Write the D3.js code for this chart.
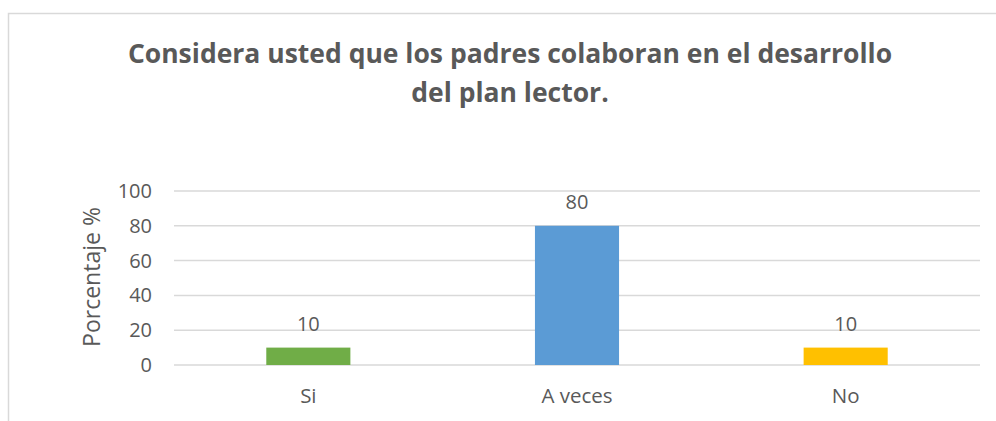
<!DOCTYPE html>
<html>
<head>
<meta charset="utf-8">
<script src="https://cdn.jsdelivr.net/npm/d3@7"></script>
<style>
  body { margin: 0; background: #fff; }
  text { font-family: "Open Sans", Lato, sans-serif; fill: #595959; }
</style>
</head>
<body>
<div id="chart"></div>
<script>
// datos
const categorias = ["Si", "A veces", "No"];
const porcentajes = [10, 80, 10];
const colores = ["#70ad47", "#5b9bd5", "#ffc000"];
const ticksY = [0, 20, 40, 60, 80, 100];

const W = 996, H = 421;
const margin = { top: 191, right: 16, bottom: 55, left: 174 };
const width = W - margin.left - margin.right,
  height = 365 - margin.top;

const svg = d3.select("#chart").append("svg")
  .attr("width", W)
  .attr("height", H);

// marco del area del grafico
svg.append("path")
  .attr("d", "M8.5,421 V13.5 H996")
  .attr("fill", "none")
  .attr("stroke", "#d9d9d9")
  .attr("stroke-width", 1.5);

// titulo
const titulo = svg.append("text")
  .attr("text-anchor", "middle")
  .style("font-size", "26.5px")
  .style("font-weight", "bold");
titulo.append("tspan").attr("x", 510).attr("y", 63)
  .text("Considera usted que los padres colaboran  en el desarrollo");
titulo.append("tspan").attr("x", 510).attr("y", 102)
  .text("del plan lector.");

const g = svg.append("g")
  .attr("transform", "translate(" + margin.left + "," + margin.top + ")");

const x = d3.scaleBand()
  .domain(categorias)
  .range([0, width])
  .paddingInner(0.687)
  .paddingOuter(0.3435);

const y = d3.scaleLinear()
  .domain([0, 100])
  .range([height, 0]);

// lineas de division
g.append("g")
  .selectAll("line")
  .data(ticksY)
  .enter()
  .append("line")
  .attr("x1", 0)
  .attr("x2", width)
  .attr("y1", d => y(d))
  .attr("y2", d => y(d))
  .attr("stroke", "#d9d9d9")
  .attr("stroke-width", 1.5);

// eje Y
const ejeY = g.append("g")
  .call(d3.axisLeft(y).tickValues(ticksY).tickSize(0).tickPadding(22));
ejeY.select(".domain").remove();
ejeY.selectAll("text")
  .style("font-size", "20px")
  .style("font-family", "'Open Sans', sans-serif")
  .attr("fill", "#595959");

// eje X
const ejeX = g.append("g")
  .attr("transform", "translate(0," + height + ")")
  .call(d3.axisBottom(x).tickSize(0).tickPadding(23));
ejeX.select(".domain").remove();
ejeX.selectAll("text")
  .style("font-size", "20.5px")
  .style("font-family", "'Open Sans', sans-serif")
  .attr("fill", "#595959");

// barras
g.append("g")
  .selectAll("rect")
  .data(porcentajes)
  .enter()
  .append("rect")
  .attr("x", (d, i) => x(categorias[i]))
  .attr("y", d => y(d))
  .attr("width", x.bandwidth())
  .attr("height", d => height - y(d))
  .attr("fill", (d, i) => colores[i]);

// etiquetas de datos
g.append("g")
  .selectAll("text")
  .data(porcentajes)
  .enter()
  .append("text")
  .attr("x", (d, i) => x(categorias[i]) + x.bandwidth() / 2)
  .attr("y", d => y(d) - 17)
  .attr("text-anchor", "middle")
  .style("font-size", "20px")
  .text(d => d);

// titulo eje Y
svg.append("text")
  .attr("transform", "translate(100,277) rotate(-90)")
  .attr("text-anchor", "middle")
  .style("font-size", "23px")
  .text("Porcentaje %");
</script>
</body>
</html>
